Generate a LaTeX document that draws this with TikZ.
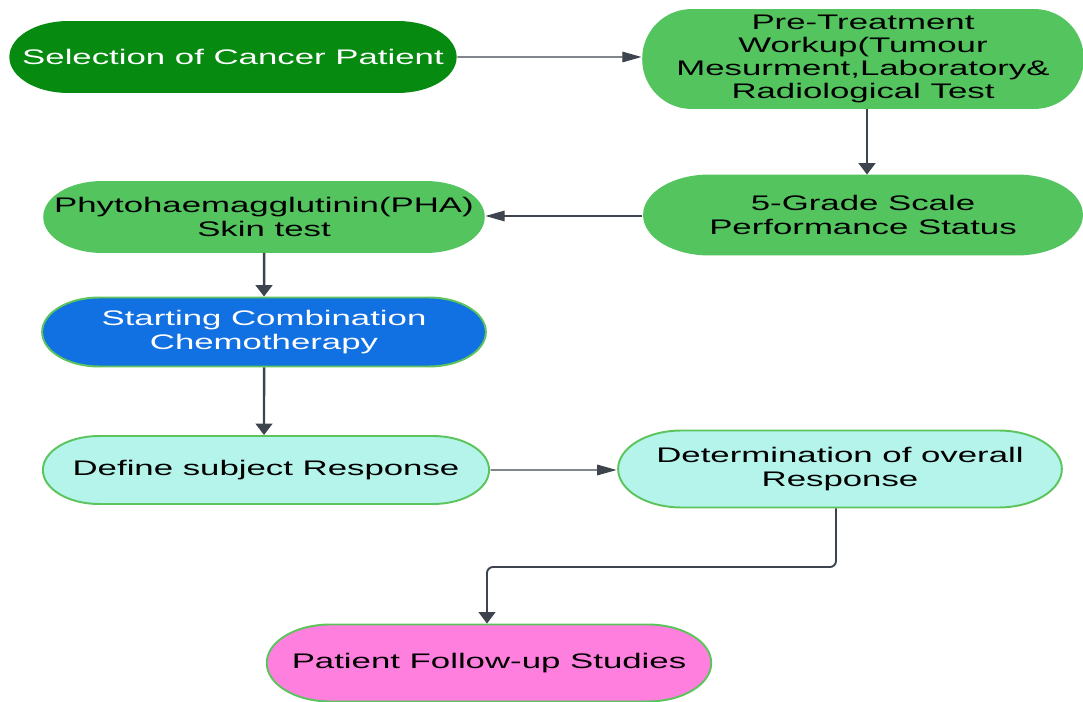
\documentclass[tikz,border=0pt]{standalone}
\usepackage{fontspec}
\setmainfont{Liberation Sans}
\usepackage{xcolor}
\usetikzlibrary{shapes,arrows,positioning,calc,arrows.meta}

\definecolor{selgreen}{HTML}{068A10}
\definecolor{stepgreen}{HTML}{54C45F}
\definecolor{rimgreen}{HTML}{5CC45C}
\definecolor{chemoblue}{HTML}{1170E2}
\definecolor{respcyan}{HTML}{B4F4EB}
\definecolor{followpink}{HTML}{FF7FDE}
\definecolor{arrowgrey}{HTML}{3E444E}

\tikzset{
  flowbox/.style={rounded rectangle, xscale=1.65, draw=rimgreen, line width=1.1pt, align=center,
    inner sep=2pt, font=\fontsize{12}{13.2}\selectfont},
  hflow/.style={draw=arrowgrey, line width=0.8pt, -{Triangle[length=11pt,width=6pt]}},
  vflow/.style={draw=arrowgrey, line width=1.4pt, -{Triangle[length=6.5pt,width=9.5pt]}},
}

\begin{document}
\begin{tikzpicture}[x=0.02cm, y=-0.02cm]
        \useasboundingbox (0,0) rectangle (1083,702);

        % top row
        \node [flowbox, fill=selgreen, draw=selgreen, text=white, minimum width=5.54cm, minimum height=1.4cm] (select) at (233,57) {Selection of Cancer Patient};
        \node [flowbox, rectangle, rounded corners=0.97cm, fill=stepgreen, draw=stepgreen, minimum width=5.33cm, minimum height=1.96cm] (workup) at (863,59) {Pre-Treatment\\Workup(Tumour\\Mesurment,Laboratory\&\\Radiological Test};
        \node [flowbox, fill=stepgreen, draw=stepgreen, minimum width=5.45cm, minimum height=1.58cm] (grade) at (863,215) {5-Grade Scale\\Performance Status};

        % left column
        \node [flowbox, fill=stepgreen, draw=stepgreen, minimum width=5.47cm, minimum height=1.4cm] (pha) at (264,217) {Phytohaemagglutinin(PHA)\\Skin test};
        \node [flowbox, fill=chemoblue, text=white, minimum width=5.52cm, minimum height=1.38cm] (chemo) at (264,332) {Starting Combination\\Chemotherapy};
        \node [flowbox, fill=respcyan, minimum width=5.55cm, minimum height=1.36cm] (subject) at (266,470) {Define subject Response};
        \node [flowbox, fill=respcyan, minimum width=5.52cm, minimum height=1.54cm] (overall) at (840,469) {Determination of overall\\Response};
        \node [flowbox, fill=followpink, minimum width=5.53cm, minimum height=1.54cm] (follow) at (489,663) {Patient Follow-up Studies};

        \draw [hflow] (select) -- (workup.west |- select.east);
        \draw [vflow] (workup.south -| 867,0) -- (grade.north -| 867,0);
        \draw [hflow] (grade.west |- 0,216) -- (pha.east |- 0,216);
        \draw [vflow] (pha) -- (chemo);
        \draw [vflow] (chemo) -- (subject.north -| chemo.south);
        \draw [hflow] (subject) -- (overall.west |- subject.east);
        \draw [vflow, line width=1.1pt, rounded corners=0.12cm] (overall.south -| 836,0) -- (836,567) -| (follow.north -| 487,0);
\end{tikzpicture}
\end{document}
